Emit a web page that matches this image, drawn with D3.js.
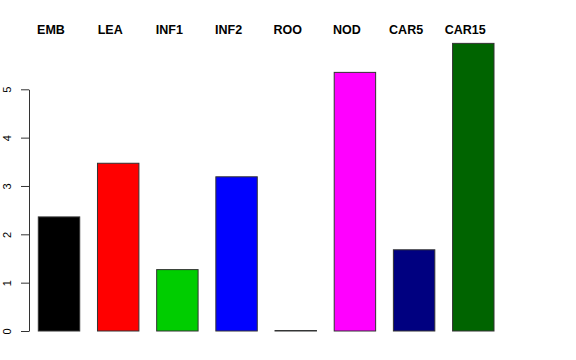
<!DOCTYPE html>
<html lang="en">
<head>
<meta charset="utf-8">
<title>Bar chart</title>
<script src="https://d3js.org/d3.v7.min.js"></script>
<style>
    body { margin: 0; background: #fff; }
    svg { display: block; font-family: "Liberation Sans", Arial, Helvetica, sans-serif; }
    .lab { font-weight: bold; font-size: 12.5px; }
    .axis text { font-size: 11px; }
</style>
</head>
<body>
<svg id="chart" width="576" height="360"></svg>
<script>
//_____________________________DATA_____________________________
var categories = ["EMB", "LEA", "INF1", "INF2", "ROO", "NOD", "CAR5", "CAR15"];
var values = [2.36, 3.47, 1.27, 3.19, 0.01, 5.35, 1.68, 5.95];
var colors = ["#000000", "#ff0000", "#00cd00", "#0000ff", "#00ffff", "#ff00ff", "#000080", "#006400"];
var yTicks = [0, 1, 2, 3, 4, 5];

//_____________________________SCALES_____________________________
var svg = d3.select("#chart");

var x = d3.scaleBand()
    .domain(categories)
    .range([38.3, 494])
    .paddingInner(0.3)
    .paddingOuter(0);

var y = d3.scaleLinear()
    .domain([0, 5])
    .range([331, 89.3]);

//_____________________________BARS_____________________________
svg.append("g").selectAll("rect")
    .data(categories)
    .enter().append("rect")
    .attr("x", function(d) { return x(d); })
    .attr("width", x.bandwidth())
    .attr("y", function(d, i) { return y(values[i]); })
    .attr("height", function(d, i) { return y(0) - y(values[i]); })
    .attr("fill", function(d, i) { return colors[i]; })
    .attr("stroke", "#333")
    .attr("stroke-width", 1);

// labels across the top
svg.append("g").selectAll("text")
    .data(categories)
    .enter().append("text")
    .attr("class", "lab")
    .attr("x", function(d) { return x(d) + x.bandwidth() / 2 - 8; })
    .attr("y", 34)
    .attr("text-anchor", "middle")
    .text(function(d) { return d; });

//_____________________________AXIS_____________________________
var yAxis = d3.axisLeft(y)
    .tickValues(yTicks)
    .tickFormat(d3.format("d"))
    .tickSize(8)
    .tickPadding(0)
    .tickSizeOuter(0);

var ax = svg.append("g")
    .attr("class", "axis")
    .attr("transform", "translate(29,0)")
    .call(yAxis);

ax.select(".domain").attr("stroke", "#333");
ax.selectAll(".tick line").attr("stroke", "#333");
ax.selectAll(".tick text")
    .attr("x", null).attr("dy", null)
    .attr("text-anchor", "middle")
    .attr("transform", "translate(-18,0) rotate(-90)")
    .attr("fill", "#000");
</script>
</body>
</html>
